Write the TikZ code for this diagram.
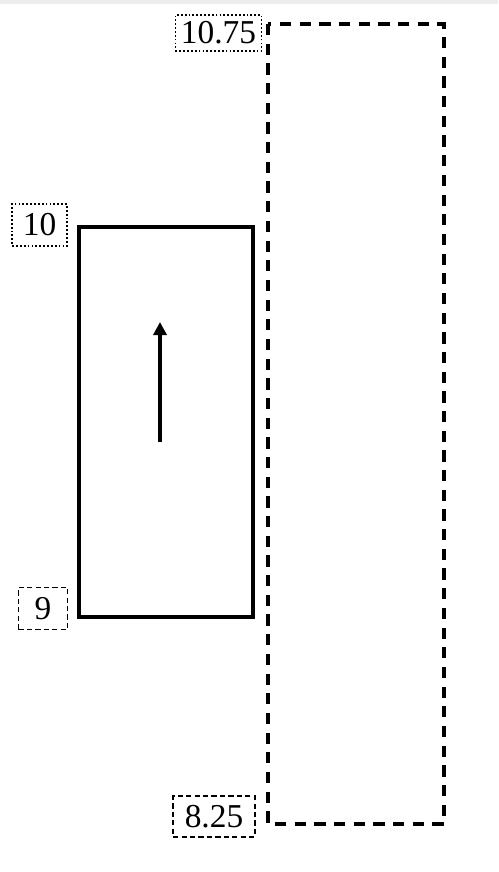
\documentclass[tikz,border=0pt]{standalone}
\usepackage{fontspec}
\setmainfont{Liberation Serif}
\usetikzlibrary{arrows.meta}

\begin{document}
\begin{tikzpicture}[scale=0.2]
            \tikzset{
              lbl/.style={inner sep=0pt, line width=1pt, font=\fontsize{19}{19}\selectfont},
              dotbox/.style={lbl, draw, dash pattern=on 1pt off 1.2pt},
              dashbox/.style={lbl, draw, dash pattern=on 3pt off 1.8pt},
              widebox/.style={line width=2.7pt, dash pattern=on 6.4pt off 4.8pt},
              interval/.style={line width=2.1pt},
              move/.style={line width=2.2pt, -{Triangle[length=7.5pt, width=7.5pt]}}
            }
            \useasboundingbox (0,0) rectangle (49.8,-87.2);
            \fill [black!7] (0,0) rectangle (49.8,-0.4);
            % widened interval
            \draw [widebox] (26.8,-2.4) rectangle (44.4,-82.4);
            \node [dotbox, minimum width=49pt, minimum height=20.5pt] (hi) at (21.85,-3.3) {10.75};
            \node [dashbox, minimum width=46.5pt, minimum height=23pt] (lo) at (21.4,-81.65) {8.25};
            % original interval
            \draw [interval] (7.9,-22.7) rectangle (25.3,-61.7);
            \node [dotbox, minimum width=31pt, minimum height=24pt] (top) at (3.95,-22.5) {10};
            \node [dashbox, minimum width=28pt, minimum height=24pt] (bottom) at (4.3,-60.85) {9};
            % direction
            \coordinate (tail) at (16.0,-44.2);
            \coordinate (tip) at (16.0,-32.2);
            \draw [move] (tail) -- (tip);
\end{tikzpicture}
\end{document}
